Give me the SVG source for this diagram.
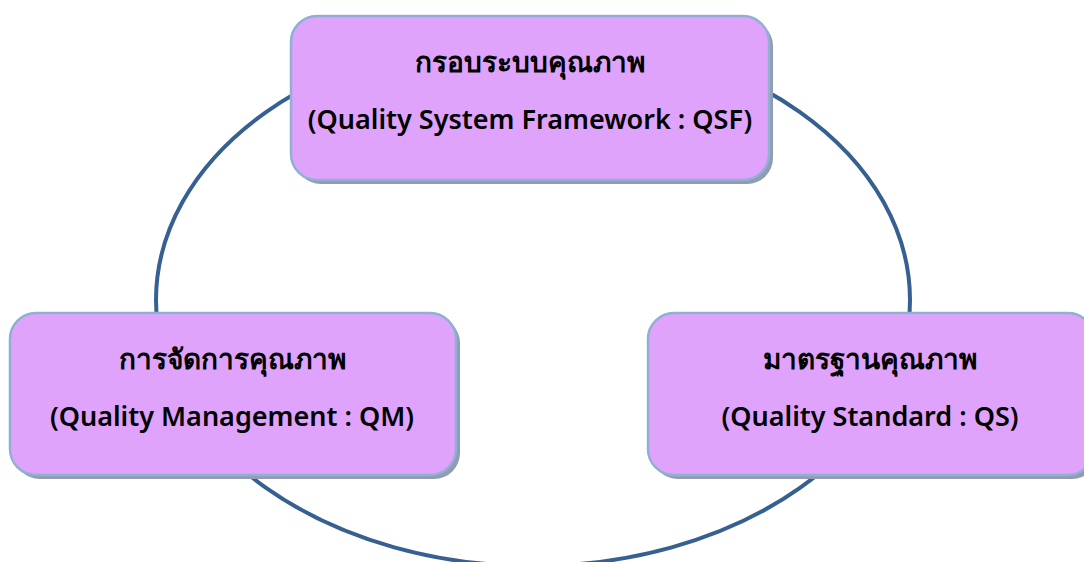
<svg xmlns="http://www.w3.org/2000/svg" width="1084" height="562" viewBox="0 0 1084 562">
<defs>
<style>
.box{fill:#e0a3fc;stroke:#8fb0d2;stroke-width:2.5}
.shadow{fill:#909caf}
.t{font-family:"Noto Sans","DejaVu Sans",sans-serif;font-size:27px;font-weight:600;fill:#000;text-anchor:middle}
.th{font-size:28px;font-weight:700}
.ring{fill:none;stroke:#376092;stroke-width:4}
</style>
</defs>
<rect width="1084" height="562" fill="#ffffff"/>
<g id="connectors">
<ellipse class="ring" cx="533" cy="300" rx="377" ry="266"/>
</g>
<g id="node-qsf">
<rect class="shadow" x="295" y="20" width="478" height="164" rx="26"/>
<rect class="box" x="291" y="16" width="478" height="164" rx="26"/>
<text class="t th" x="530" y="72">กรอบระบบคุณภาพ</text>
<text class="t" x="530" y="129">(Quality System Framework : QSF)</text>
</g>
<g id="node-qm">
<rect class="shadow" x="14" y="317" width="446" height="162" rx="26"/>
<rect class="box" x="10" y="313" width="446" height="162" rx="26"/>
<text class="t th" x="232" y="369">การจัดการคุณภาพ</text>
<text class="t" x="232" y="426">(Quality Management : QM)</text>
</g>
<g id="node-qs">
<rect class="shadow" x="652" y="317" width="446" height="162" rx="26"/>
<rect class="box" x="648" y="313" width="446" height="162" rx="26"/>
<text class="t th" x="870" y="369">มาตรฐานคุณภาพ</text>
<text class="t" x="870" y="426">(Quality Standard : QS)</text>
</g>
</svg>
